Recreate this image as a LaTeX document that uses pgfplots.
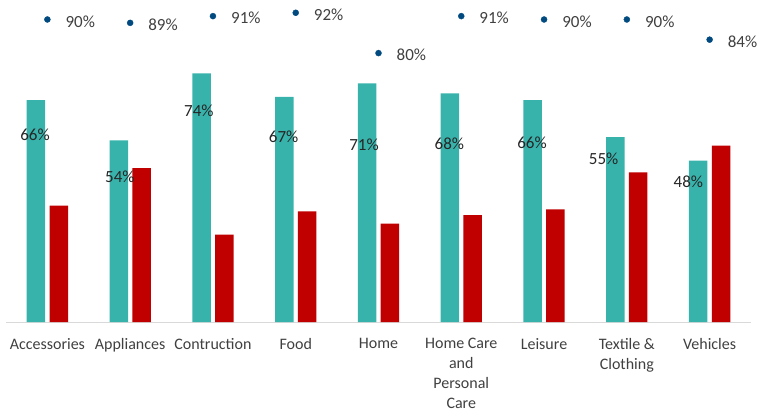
\documentclass[border=0pt]{standalone}
\usepackage{fontspec}
\setmainfont{Carlito}
\usepackage{pgfplots}
\pgfplotsset{compat=1.18}
\definecolor{teal1}{RGB}{56,179,172}
\definecolor{red1}{RGB}{192,0,0}
\definecolor{dot1}{RGB}{0,74,128}
\definecolor{txt}{RGB}{64,64,64}
\begin{document}
\begin{tikzpicture}
\begin{axis}[name=ax, at={(0,0)}, anchor=south west,
  scale only axis, width=745pt, height=322pt,
  xmin=-0.5, xmax=8.5, ymin=0, ymax=95.8,
  axis x line*=bottom, axis y line=none,
  x axis line style={-, draw={rgb,255:red,217;green,217;blue,217}, line width=1pt},
  xtick={0,...,8}, major tick length=0pt,
  xticklabels={Accessories,Appliances,Contruction,Food,Home,{Home Care\\and\\Personal\\Care},Leisure,{Textile \&\\Clothing},Vehicles},
  xticklabel style={align=center, anchor=north, inner sep=0pt, yshift=-16pt, text=txt, font=\fontsize{16}{20}\selectfont},
  clip=false]
\addplot[ybar, bar width=18.5pt, bar shift=-11.4pt, fill=teal1, draw=none] coordinates {
 (0,66) (1,54) (2,74) (3,67) (4,71) (5,68) (6,66) (7,55) (8,48)};
\addplot[ybar, bar width=18.5pt, bar shift=11.4pt, fill=red1, draw=none] coordinates {
 (0,34.6) (1,45.8) (2,26.0) (3,32.9) (4,29.3) (5,31.8) (6,33.5) (7,44.5) (8,52.5)};
\addplot[draw=none, mark=none, nodes near coords, point meta=explicit symbolic,
  nodes near coords style={anchor=center, inner sep=0pt, text=black!85, font=\fontsize{17}{20}\selectfont}] coordinates {
 (-0.15,55.7) [66\%] (0.876,43.2) [54\%] (1.83,62.8) [74\%] (2.854,55.1) [67\%] (3.825,52.7) [71\%]
 (4.856,52.9) [68\%] (5.854,53.2) [66\%] (6.72,48.5) [55\%] (7.743,41.8) [48\%]};
\addplot[only marks, mark=*, mark size=3pt, color=dot1, nodes near coords, point meta=explicit symbolic,
  nodes near coords style={anchor=west, inner sep=0pt, xshift=18pt, yshift=-2pt, text=txt, font=\fontsize{17}{20}\selectfont}] coordinates {
 (0,90) [90\%] (1,89) [89\%] (2,91) [91\%] (3,92) [92\%] (4,80) [80\%]
 (5,91) [91\%] (6,90) [90\%] (7,90) [90\%] (8,84) [84\%]};
\end{axis}
\pgfresetboundingbox
\path[use as bounding box] ([shift={(-6pt,-90pt)}]ax.south west) rectangle ([shift={(7pt,0pt)}]ax.north east);
\end{tikzpicture}
\end{document}
